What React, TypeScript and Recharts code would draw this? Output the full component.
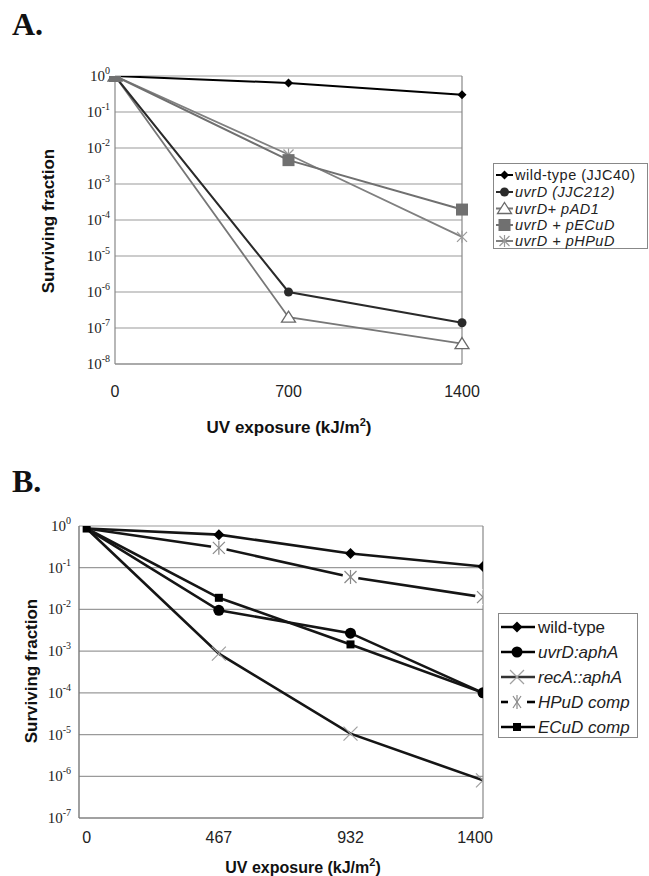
import React from 'react';
import { LineChart, Line, XAxis, YAxis, CartesianGrid, ReferenceLine } from 'recharts';

// ---------- Panel A data ----------
const doseA = [0, 700, 1400];
const wildTypeA = [1, 0.64, 0.3];
const uvrDA = [1, 1.0e-6, 1.4e-7];
const pAD1A = [1, 2.0e-7, 3.7e-8];
const pECuDA = [1, 4.6e-3, 1.95e-4];
const pHPuDA = [1, 6.6e-3, 3.4e-5];
const namesA = ['wild-type (JJC40)', 'uvrD (JJC212)', 'uvrD+ pAD1', 'uvrD + pECuD', 'uvrD + pHPuD'];
const yTicksA = [1, 1e-1, 1e-2, 1e-3, 1e-4, 1e-5, 1e-6, 1e-7, 1e-8];

// ---------- Panel B data ----------
const doseB = [0, 467, 932, 1400];
const wildTypeB = [0.87, 0.62, 0.22, 0.107];
const uvrDB = [0.87, 9.5e-3, 2.7e-3, 1.0e-4];
const recAB = [0.87, 8.7e-4, 1.05e-5, 8.0e-7];
const hpudB = [0.87, 0.3, 0.06, 0.0197];
const ecudB = [0.87, 0.019, 1.45e-3, 1.0e-4];
const namesB = ['wild-type', 'uvrD:aphA', 'recA::aphA', 'HPuD comp', 'ECuD comp'];
const yTicksB = [1, 1e-1, 1e-2, 1e-3, 1e-4, 1e-5, 1e-6, 1e-7];

const dataA = doseA.map((x, i) => ({
  x,
  wt: wildTypeA[i],
  uvrD: uvrDA[i],
  pAD1: pAD1A[i],
  pECuD: pECuDA[i],
  pHPuD: pHPuDA[i],
}));

const dataB = doseB.map((x, i) => ({
  x,
  wt: wildTypeB[i],
  uvrD: uvrDB[i],
  recA: recAB[i],
  hpud: hpudB[i],
  ecud: ecudB[i],
}));

const SANS = '"Liberation Sans", Arial, sans-serif';
const SERIF = '"Liberation Serif", "Times New Roman", serif';

function marker(kind: string, cx: number, cy: number, key?: any) {
  switch (kind) {
    case 'diamondA':
      return <polygon key={key} points={`${cx},${cy - 4.5} ${cx + 4.5},${cy} ${cx},${cy + 4.5} ${cx - 4.5},${cy}`} fill="#000" />;
    case 'circleA':
      return <circle key={key} cx={cx} cy={cy} r={4.5} fill="#2a2a2a" />;
    case 'triA':
      return <polygon key={key} points={`${cx},${cy - 6} ${cx + 7},${cy + 5} ${cx - 7},${cy + 5}`} fill="#fff" stroke="#6a6a6a" strokeWidth={1.3} />;
    case 'squareA':
      return <rect key={key} x={cx - 6} y={cy - 6} width={12} height={12} fill="#707070" />;
    case 'starA':
      return (
        <g key={key} stroke="#9a9a9a" strokeWidth={1.2}>
          <line x1={cx - 5} y1={cy - 5} x2={cx + 5} y2={cy + 5} />
          <line x1={cx - 5} y1={cy + 5} x2={cx + 5} y2={cy - 5} />
          <line x1={cx} y1={cy - 6} x2={cx} y2={cy + 6} />
        </g>
      );
    case 'diamondB':
      return <polygon key={key} points={`${cx},${cy - 5.5} ${cx + 5.5},${cy} ${cx},${cy + 5.5} ${cx - 5.5},${cy}`} fill="#000" />;
    case 'circleB':
      return <circle key={key} cx={cx} cy={cy} r={5.5} fill="#000" />;
    case 'xB':
      return (
        <g key={key} stroke="#a0a0a0" strokeWidth={1.2}>
          <line x1={cx - 7} y1={cy - 7} x2={cx + 7} y2={cy + 7} />
          <line x1={cx - 7} y1={cy + 7} x2={cx + 7} y2={cy - 7} />
        </g>
      );
    case 'starB':
      return (
        <g key={key}>
          <circle cx={cx} cy={cy} r={8} fill="#fff" />
          <g stroke="#8a8a8a" strokeWidth={1.2}>
            <line x1={cx - 6} y1={cy - 6} x2={cx + 6} y2={cy + 6} />
            <line x1={cx - 6} y1={cy + 6} x2={cx + 6} y2={cy - 6} />
            <line x1={cx} y1={cy - 7} x2={cx} y2={cy + 7} />
          </g>
        </g>
      );
    case 'squareB':
      return <rect key={key} x={cx - 4} y={cy - 4} width={8} height={8} fill="#000" />;
    default:
      return <g key={key} />;
  }
}

const dotFn = (kind: string, skipFirst = false) => (props: any) => {
  const { cx, cy, index, key } = props;
  if (cx == null || cy == null || (skipFirst && index === 0)) return <g key={key ?? index} />;
  return marker(kind, cx, cy, key ?? index);
};

const LogTick = (fontSize: number, supSize: number) => (props: any) => {
  const { x, y, payload } = props;
  const exp = Math.round(Math.log10(payload.value));
  return (
    <text x={x} y={y} textAnchor="end" fontFamily={SERIF} fontSize={fontSize} fill="#222" dominantBaseline="central">
      10
      <tspan fontSize={supSize} dy={-6}>
        {exp}
      </tspan>
    </text>
  );
};

const XTickB = (props: any) => {
  const { x, y, payload } = props;
  const last = payload.value === doseB[doseB.length - 1];
  return (
    <text x={x} y={y} dx={last ? -8 : 0} dy="0.71em" textAnchor="middle" fontFamily={SANS} fontSize={16} fill="#222">
      {payload.value}
    </text>
  );
};

const seriesA = [
  { key: 'wt', color: '#000', width: 2, marker: 'diamondA' },
  { key: 'pAD1', color: '#777', width: 1.8, marker: 'triA' },
  { key: 'uvrD', color: '#2a2a2a', width: 2, marker: 'circleA' },
  { key: 'pHPuD', color: '#808080', width: 1.8, marker: 'starA' },
  { key: 'pECuD', color: '#707070', width: 2, marker: 'squareA' },
];
const legendOrderA = ['wt', 'uvrD', 'pAD1', 'pECuD', 'pHPuD'];

const seriesB = [
  { key: 'recA', marker: 'xB', skip: true },
  { key: 'uvrD', marker: 'circleB', skip: true },
  { key: 'ecud', marker: 'squareB', skip: false },
  { key: 'hpud', marker: 'starB', skip: true },
  { key: 'wt', marker: 'diamondB', skip: true },
];
const legendB = [
  { marker: 'diamondB', color: '#000', dashed: false },
  { marker: 'circleB', color: '#000', dashed: false },
  { marker: 'xB', color: '#333', dashed: false },
  { marker: 'starB', color: '#000', dashed: true },
  { marker: 'squareB', color: '#000', dashed: false },
];

export default function App() {
  const rowsA = [175, 192, 208.5, 225, 241];
  const rowsB = [627, 652, 677, 702, 727];
  return (
    <div style={{ position: 'absolute', left: 0, top: 0, width: 649, height: 876, background: '#fff' }}>
      {/* Panel A */}
      <div style={{ position: 'absolute', left: 0, top: 0 }}>
        <LineChart width={649} height={450} data={dataA} margin={{ top: 76, right: 187, bottom: 56, left: 45 }}>
          <CartesianGrid vertical={false} stroke="#9a9a9a" strokeWidth={1.2} />
          <XAxis
            dataKey="x"
            type="number"
            domain={[0, 1400]}
            ticks={doseA}
            interval={0}
            tickLine={false}
            axisLine={{ stroke: '#888', strokeWidth: 1.2 }}
            tickSize={6}
            tickMargin={16}
            height={30}
            tick={{ fontSize: 16, fill: '#222', fontFamily: SANS }}
          />
          <YAxis
            type="number"
            scale="log"
            domain={[1e-8, 1]}
            ticks={yTicksA}
            interval={0}
            allowDataOverflow
            width={70}
            tickLine={false}
            tickSize={5}
            tickMargin={0}
            axisLine={{ stroke: '#888', strokeWidth: 1.2 }}
            tick={LogTick(15, 10)}
          />
          <ReferenceLine x={1400} stroke="#888" strokeWidth={1.2} />
          {seriesA.map((s) => (
            <Line
              key={s.key}
              dataKey={s.key}
              type="linear"
              stroke={s.color}
              strokeWidth={s.width}
              dot={dotFn(s.marker)}
              activeDot={false}
              isAnimationActive={false}
            />
          ))}
        </LineChart>
      </div>

      {/* Panel B */}
      <div style={{ position: 'absolute', left: 0, top: 450 }}>
        <LineChart width={649} height={426} data={dataB} margin={{ top: 76, right: 166, bottom: 28, left: 9 }}>
          <CartesianGrid vertical={false} stroke="#9a9a9a" strokeWidth={1.2} />
          <XAxis
            dataKey="x"
            type="number"
            domain={[-27, 1400]}
            ticks={doseB}
            interval={0}
            allowDataOverflow
            tickLine={false}
            axisLine={{ stroke: '#777', strokeWidth: 1.2 }}
            tickSize={6}
            tickMargin={8}
            height={30}
            tick={XTickB}
          />
          <XAxis
            xAxisId="top"
            orientation="top"
            dataKey="x"
            type="number"
            domain={[-27, 1400]}
            ticks={[467, 932, 1400]}
            interval={0}
            allowDataOverflow
            height={0}
            tick={false}
            tickLine={{ stroke: '#888' }}
            tickSize={6}
            axisLine={{ stroke: '#888', strokeWidth: 1.2 }}
          />
          <YAxis
            type="number"
            scale="log"
            domain={[1e-7, 1]}
            ticks={yTicksB}
            interval={0}
            allowDataOverflow
            width={70}
            tickLine={false}
            axisLine={{ stroke: '#777', strokeWidth: 1.4 }}
            tick={LogTick(15, 10)}
          />
          <ReferenceLine x={1400} stroke="#888" strokeWidth={1.2} />
          {seriesB.map((s) => (
            <Line
              key={s.key}
              dataKey={s.key}
              type="linear"
              stroke="#151515"
              strokeWidth={2.6}
              dot={dotFn(s.marker, s.skip)}
              activeDot={false}
              isAnimationActive={false}
            />
          ))}
        </LineChart>
      </div>

      {/* Text & legends overlay */}
      <svg width={649} height={876} style={{ position: 'absolute', left: 0, top: 0, pointerEvents: 'none' }}>
        <text x={12} y={35} fontFamily={SERIF} fontWeight="bold" fontSize={32} fill="#111">A.</text>
        <text x={12} y={492} fontFamily={SERIF} fontWeight="bold" fontSize={32} fill="#111">B.</text>

        <text
          x={48}
          y={221}
          transform="rotate(-90 48 221)"
          textAnchor="middle"
          dominantBaseline="central"
          fontFamily={SANS}
          fontWeight="bold"
          fontSize={17}
          fill="#111"
        >
          Surviving fraction
        </text>
        <text
          x={31}
          y={671}
          transform="rotate(-90 31 671)"
          textAnchor="middle"
          dominantBaseline="central"
          fontFamily={SANS}
          fontWeight="bold"
          fontSize={17}
          fill="#111"
        >
          Surviving fraction
        </text>

        <text x={289} y={433} textAnchor="middle" fontFamily={SANS} fontWeight="bold" fontSize={17} fill="#111">
          UV exposure (kJ/m<tspan fontSize={11} dy={-7}>2</tspan><tspan dy={7}>)</tspan>
        </text>
        <text x={303} y={873} textAnchor="middle" fontFamily={SANS} fontWeight="bold" fontSize={16} fill="#111">
          UV exposure (kJ/m<tspan fontSize={11} dy={-7}>2</tspan><tspan dy={7}>)</tspan>
        </text>

        {/* Legend A */}
        <rect x={493.5} y={163.5} width={154} height={85} fill="#fff" stroke="#888" />
        {legendOrderA.map((k, i) => {
          const s = seriesA.find((d) => d.key === k)!;
          const y = rowsA[i];
          return (
            <g key={k}>
              <line x1={496} x2={513} y1={y} y2={y} stroke={s.color} strokeWidth={2} />
              {marker(s.marker, 504.5, y)}
              <text
                x={515}
                y={y + 5}
                fontFamily={SANS}
                fontSize={14.5}
                letterSpacing={0.5}
                fill="#222"
                fontStyle={i === 0 ? 'normal' : 'italic'}
              >
                {namesA[i]}
              </text>
            </g>
          );
        })}

        {/* Legend B */}
        <rect x={498.5} y={613.5} width={139} height={124} fill="#fff" stroke="#888" />
        {legendB.map((s, i) => {
          const y = rowsB[i];
          return (
            <g key={i}>
              {s.dashed ? (
                <g stroke={s.color} strokeWidth={2.6}>
                  <line x1={501} x2={508} y1={y} y2={y} />
                  <line x1={527} x2={535} y1={y} y2={y} />
                </g>
              ) : (
                <line x1={501} x2={535} y1={y} y2={y} stroke={s.color} strokeWidth={2.6} />
              )}
              {s.marker === 'starB' ? (
                <g stroke="#8a8a8a" strokeWidth={1.2}>
                  <line x1={513} y1={y - 6} x2={521} y2={y + 6} />
                  <line x1={513} y1={y + 6} x2={521} y2={y - 6} />
                  <line x1={517} y1={y - 7} x2={517} y2={y + 7} />
                </g>
              ) : (
                marker(s.marker, 517, y)
              )}
              <text x={538} y={y + 6} fontFamily={SANS} fontSize={17} fill="#222" fontStyle={i === 0 ? 'normal' : 'italic'}>
                {namesB[i]}
              </text>
            </g>
          );
        })}
      </svg>
    </div>
  );
}
